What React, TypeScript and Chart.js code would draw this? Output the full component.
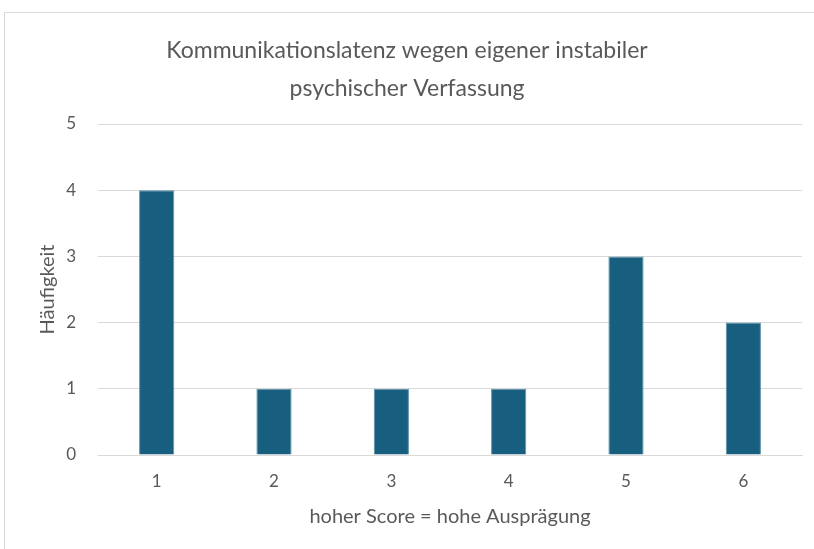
import React, { useEffect, useRef } from "react";
import { Chart, registerables } from "chart.js";

Chart.register(...registerables);

const categories = ["1", "2", "3", "4", "5", "6"];
const frequencies = [4, 1, 1, 1, 3, 2];
const titleLines = ["Kommunikationslatenz wegen eigener instabiler", "psychischer Verfassung"];
const yAxisTitle = "Häufigkeit";
const xAxisTitle = "hoher Score = hohe Ausprägung";

const FONT = "Lato";
const TEXT = "#595959";

export default function App() {
  const ref = useRef<HTMLCanvasElement | null>(null);

  useEffect(() => {
    document.body.style.margin = "0";
    if (!ref.current) return;
    const chart = new Chart(ref.current, {
      type: "bar",
      data: {
        labels: categories,
        datasets: [
          {
            data: frequencies,
            backgroundColor: "#175e7f",
            borderColor: "#5b8fa8",
            borderWidth: 1,
            barPercentage: 0.6,
            categoryPercentage: 0.5,
          },
        ],
      },
      options: {
        animation: false,
        responsive: false,
        layout: { padding: { left: 12, right: 12, top: 32, bottom: 12 } },
        plugins: {
          legend: { display: false },
          tooltip: { enabled: false },
          title: {
            display: true,
            text: titleLines,
            color: TEXT,
            font: { family: FONT, size: 23, weight: "normal", lineHeight: 38 / 23 },
            padding: { top: 0, bottom: 16 },
          },
        },
        scales: {
          x: {
            grid: { display: false, drawTicks: false },
            border: { display: true, color: "#d9d9d9" },
            ticks: { color: TEXT, font: { family: FONT, size: 17 }, padding: 16 },
            title: {
              display: true,
              text: xAxisTitle,
              color: TEXT,
              font: { family: FONT, size: 20 },
              padding: { top: 0, bottom: 8 },
            },
            afterFit: (scale: any) => {
              scale.height = 82;
            },
          },
          y: {
            min: 0,
            max: 5,
            ticks: { stepSize: 1, color: TEXT, font: { family: FONT, size: 17 }, padding: 22 },
            grid: { color: "#d9d9d9", drawTicks: false },
            border: { display: false },
            title: {
              display: true,
              text: yAxisTitle,
              color: TEXT,
              font: { family: FONT, size: 20 },
              padding: { top: 24, bottom: 0 },
            },
            afterFit: (scale: any) => {
              scale.width = 86;
            },
          },
        },
      },
    });
    return () => chart.destroy();
  }, []);

  return (
    <div style={{ position: "relative", width: 814, height: 549, background: "#fff" }}>
      <div
        style={{
          position: "absolute",
          left: 4,
          top: 12,
          width: 812,
          height: 540,
          borderTop: "1px solid #d9d9d9",
          borderLeft: "1px solid #d9d9d9",
          boxSizing: "border-box",
        }}
      />
      <canvas ref={ref} width={814} height={549} style={{ position: "absolute", left: 0, top: 0 }} />
    </div>
  );
}
